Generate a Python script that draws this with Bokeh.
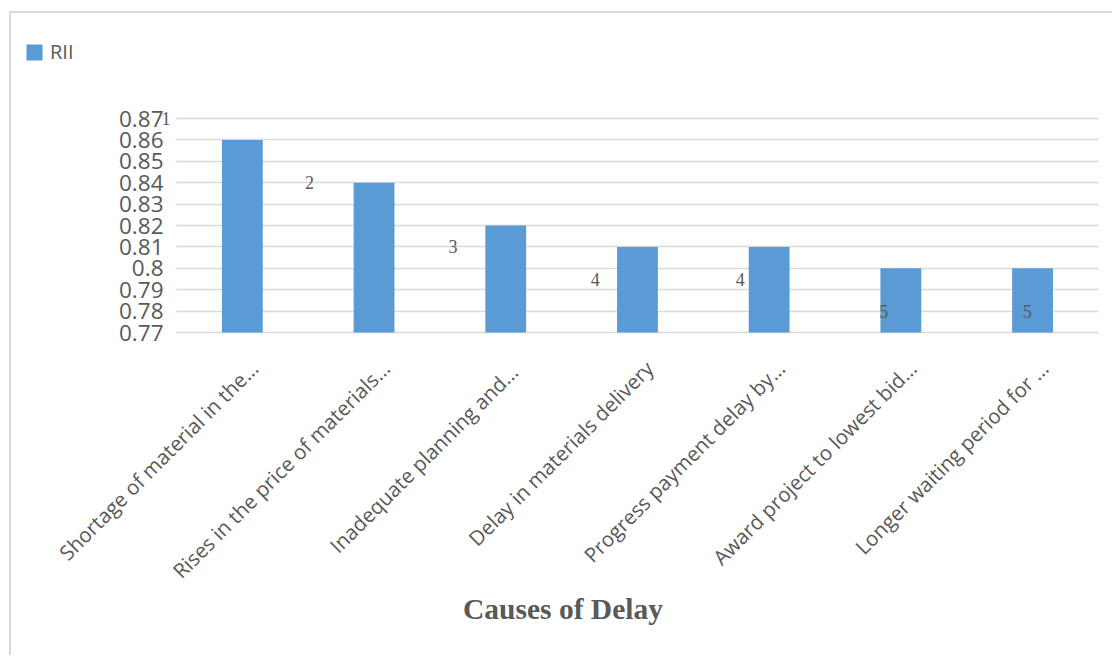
from bokeh.plotting import figure
from bokeh.models import (ColumnDataSource, FixedTicker, LabelSet, Label, Legend,
                          LegendItem, NumeralTickFormatter)
from bokeh.core.properties import value
from bokeh.embed import file_html
from bokeh.resources import INLINE

categories = [
    "Shortage of material in the...",
    "Rises in the price of materials...",
    "Inadequate planning  and...",
    "Delay in materials delivery",
    "Progress payment delay by...",
    "Award project to lowest bid...",
    "Longer waiting period for ...",
]
rii = [0.86, 0.84, 0.82, 0.81, 0.81, 0.80, 0.80]
ranks = ["1", "2", "3", "4", "4", "5", "5"]
# where the rank labels sit in the original chart (category units, RII units)
rank_label_x = [-0.08, 1.01, 2.10, 3.18, 4.28, 5.37, 6.46]
rank_label_y = [0.87, 0.84, 0.81, 0.795, 0.795, 0.78, 0.78]
y_ticks = [0.77, 0.78, 0.79, 0.80, 0.81, 0.82, 0.83, 0.84, 0.85, 0.86, 0.87]
y_min, y_max = 0.77, 0.87

GREY = "#595959"

# layout geometry (pixels)
W, H = 1103, 644
plot_left, plot_top = 165, 105          # where category 0 / y_max sit on canvas
cat_px = 131.7                          # pixels per category
y_px = 214 / (y_max - y_min)            # pixels per RII unit
n = len(categories)
x_start = -plot_left / cat_px
x_end = x_start + W / cat_px
y_end = y_max + plot_top / y_px
y_start = y_end - H / y_px
label_shift = 0.09                      # rotated labels end a little right of the bar

centers = [i + 0.5 for i in range(n)]
label_pos = [c + label_shift for c in centers]
src = ColumnDataSource(dict(x=centers, top=rii, cat=categories))
rank_src = ColumnDataSource(dict(x=rank_label_x, y=rank_label_y, t=ranks))

p = figure(width=W, height=H, min_border=0,
           x_range=(x_start, x_end), y_range=(y_start, y_end),
           output_backend="svg", toolbar_location=None)
p.margin = (11, 0, 0, 9)
p.styles = {"border-top": "2px solid #D9D9D9", "border-left": "2px solid #D9D9D9"}
p.outline_line_color = None
p.background_fill_color = "white"
p.border_fill_color = "white"
p.title.visible = False

bars = p.vbar(x="x", top="top", bottom=y_min, width=0.31, source=src,
              fill_color="#5B9BD5", line_color=None)

# axes, pinned to the chart's plot area
p.xaxis.fixed_location = y_min
p.xaxis.bounds = (0, n)
p.xaxis.ticker = FixedTicker(ticks=label_pos)
p.xaxis.major_label_overrides = {c: lab for c, lab in zip(label_pos, categories)}
p.xaxis.major_label_orientation = 0.785398
p.xaxis.major_label_text_font = "Open Sans"
p.xaxis.major_label_text_font_size = "20.5px"
p.xaxis.major_label_text_color = GREY
p.xaxis.axis_line_color = None
p.xaxis.major_tick_line_color = None
p.xaxis.minor_tick_line_color = None
p.xaxis.major_label_standoff = 26

p.yaxis.fixed_location = 0
p.yaxis.bounds = (y_min, y_max)
p.yaxis.ticker = FixedTicker(ticks=y_ticks)
p.yaxis.formatter = NumeralTickFormatter(format="0.[00]")
p.yaxis.major_label_text_font = "Open Sans"
p.yaxis.major_label_text_font_size = "22.5px"
p.yaxis.major_label_text_color = GREY
p.yaxis.axis_line_color = None
p.yaxis.major_tick_line_color = None
p.yaxis.minor_tick_line_color = None
p.yaxis.major_label_standoff = 7

p.xgrid.grid_line_color = None
p.ygrid.ticker = FixedTicker(ticks=y_ticks)
p.ygrid.bounds = (y_min, y_max)
p.ygrid.cross_bounds = (0, n)
p.ygrid.grid_line_color = "#D9D9D9"
p.ygrid.grid_line_width = 1.5

# rank labels
p.add_layout(LabelSet(x="x", y="y", text="t", source=rank_src,
                      text_font=value("Liberation Serif"), text_font_size="18px",
                      text_color=GREY, text_align="center",
                      text_baseline="middle"))

# axis title (centred on the whole chart)
title_x = x_start + (W / 2) / cat_px
p.add_layout(Label(x=title_x, y=0.641, text="Causes of Delay",
                   text_font="Liberation Serif", text_font_style="bold",
                   text_font_size="29.5px", text_color=GREY,
                   text_align="center", text_baseline="middle"))

legend = Legend(items=[LegendItem(label="RII", renderers=[bars])],
                location=(13, 592), orientation="horizontal",
                label_text_font="Open Sans", label_text_font_size="20px",
                label_text_color=GREY, glyph_width=20, glyph_height=20,
                label_standoff=6, padding=0, margin=0, spacing=0,
                border_line_color=None, background_fill_alpha=0)
p.add_layout(legend, "center")

open("out.html", "w").write(file_html(p, INLINE))
